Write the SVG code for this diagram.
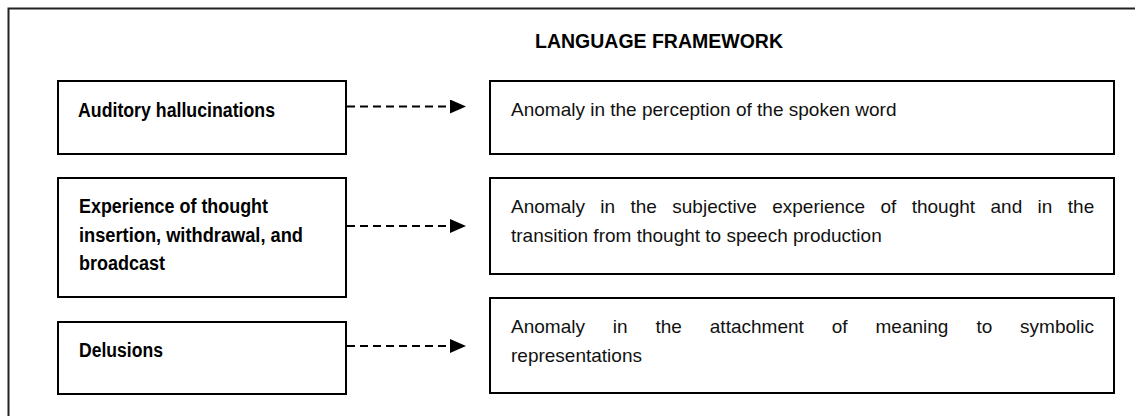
<svg xmlns="http://www.w3.org/2000/svg" width="1135" height="416" viewBox="0 0 1135 416">
  <style>
    .frame { fill: none; stroke: #222; stroke-width: 2; }
    .box { fill: #fff; stroke: #000; stroke-width: 2; }
    .title { font-family: "Liberation Sans", Arial, sans-serif; font-size: 20px; font-weight: bold; fill: #000; }
    .label { font-family: "Liberation Sans", Arial, sans-serif; font-size: 19.5px; font-weight: bold; fill: #000; }
    .desc { font-family: "Liberation Sans", Arial, sans-serif; font-size: 19px; fill: #111; }
    .link { fill: none; stroke: #000; stroke-width: 2; stroke-dasharray: 8 5; }
  </style>
  <defs>
    <marker id="arrow" markerUnits="userSpaceOnUse" markerWidth="16" markerHeight="14" refX="0" refY="7" orient="auto">
      <path d="M0,0 L16,7 L0,14 Z" fill="#000"/>
    </marker>
  </defs>

  <rect width="1135" height="416" fill="#fff"/>
  <!-- outer frame (runs past the right and bottom edges) -->
  <rect class="frame" x="8.5" y="8.5" width="1140" height="420"/>

  <text id="title" class="title" x="535" y="48" textLength="248" lengthAdjust="spacingAndGlyphs">LANGUAGE FRAMEWORK</text>

  <!-- symptoms -->
  <g id="auditory">
    <rect class="box" x="58" y="81" width="288" height="73"/>
    <text class="label" x="78" y="117" textLength="197" lengthAdjust="spacingAndGlyphs">Auditory hallucinations</text>
  </g>
  <g id="thought-experience">
    <rect class="box" x="58" y="178" width="288" height="119"/>
    <text class="label" x="79" y="213" textLength="189" lengthAdjust="spacingAndGlyphs">Experience of thought</text>
    <text class="label" x="79" y="242" textLength="224" lengthAdjust="spacingAndGlyphs">insertion, withdrawal, and</text>
    <text class="label" x="79" y="270" textLength="86" lengthAdjust="spacingAndGlyphs">broadcast</text>
  </g>
  <g id="delusions">
    <rect class="box" x="58" y="322" width="288" height="72"/>
    <text class="label" x="79" y="357" textLength="84" lengthAdjust="spacingAndGlyphs">Delusions</text>
  </g>

  <!-- anomalies -->
  <g id="anomaly-perception">
    <rect class="box" x="490" y="81" width="624" height="73"/>
    <text class="desc" x="511" y="116">Anomaly in the perception of the spoken word</text>
  </g>
  <g id="anomaly-thought">
    <rect class="box" x="490" y="178" width="624" height="96"/>
    <text class="desc" y="213">
      <tspan x="511">Anomaly</tspan><tspan x="600.3">in</tspan><tspan x="630.5">the</tspan><tspan x="672.3">subjective</tspan><tspan x="772.2">experience</tspan><tspan x="880.5">of</tspan><tspan x="911.7">thought</tspan><tspan x="990.5">and</tspan><tspan x="1037.6">in</tspan><tspan x="1067.8">the</tspan>
    </text>
    <text class="desc" x="511" y="242">transition from thought to speech production</text>
  </g>
  <g id="anomaly-meaning">
    <rect class="box" x="490" y="298" width="624" height="95"/>
    <text class="desc" y="333">
      <tspan x="511">Anomaly</tspan><tspan x="612.8">in</tspan><tspan x="655.5">the</tspan><tspan x="709.8">attachment</tspan><tspan x="831.8">of</tspan><tspan x="875.5">meaning</tspan><tspan x="976.4">to</tspan><tspan x="1020.1">symbolic</tspan>
    </text>
    <text class="desc" x="511" y="362">representations</text>
  </g>

  <!-- connectors -->
  <g id="connectors">
    <line class="link" x1="347" y1="106.5" x2="450" y2="106.5" marker-end="url(#arrow)"/>
    <line class="link" x1="347" y1="226" x2="450" y2="226" marker-end="url(#arrow)"/>
    <line class="link" x1="347" y1="346" x2="450" y2="346" marker-end="url(#arrow)"/>
  </g>
</svg>
